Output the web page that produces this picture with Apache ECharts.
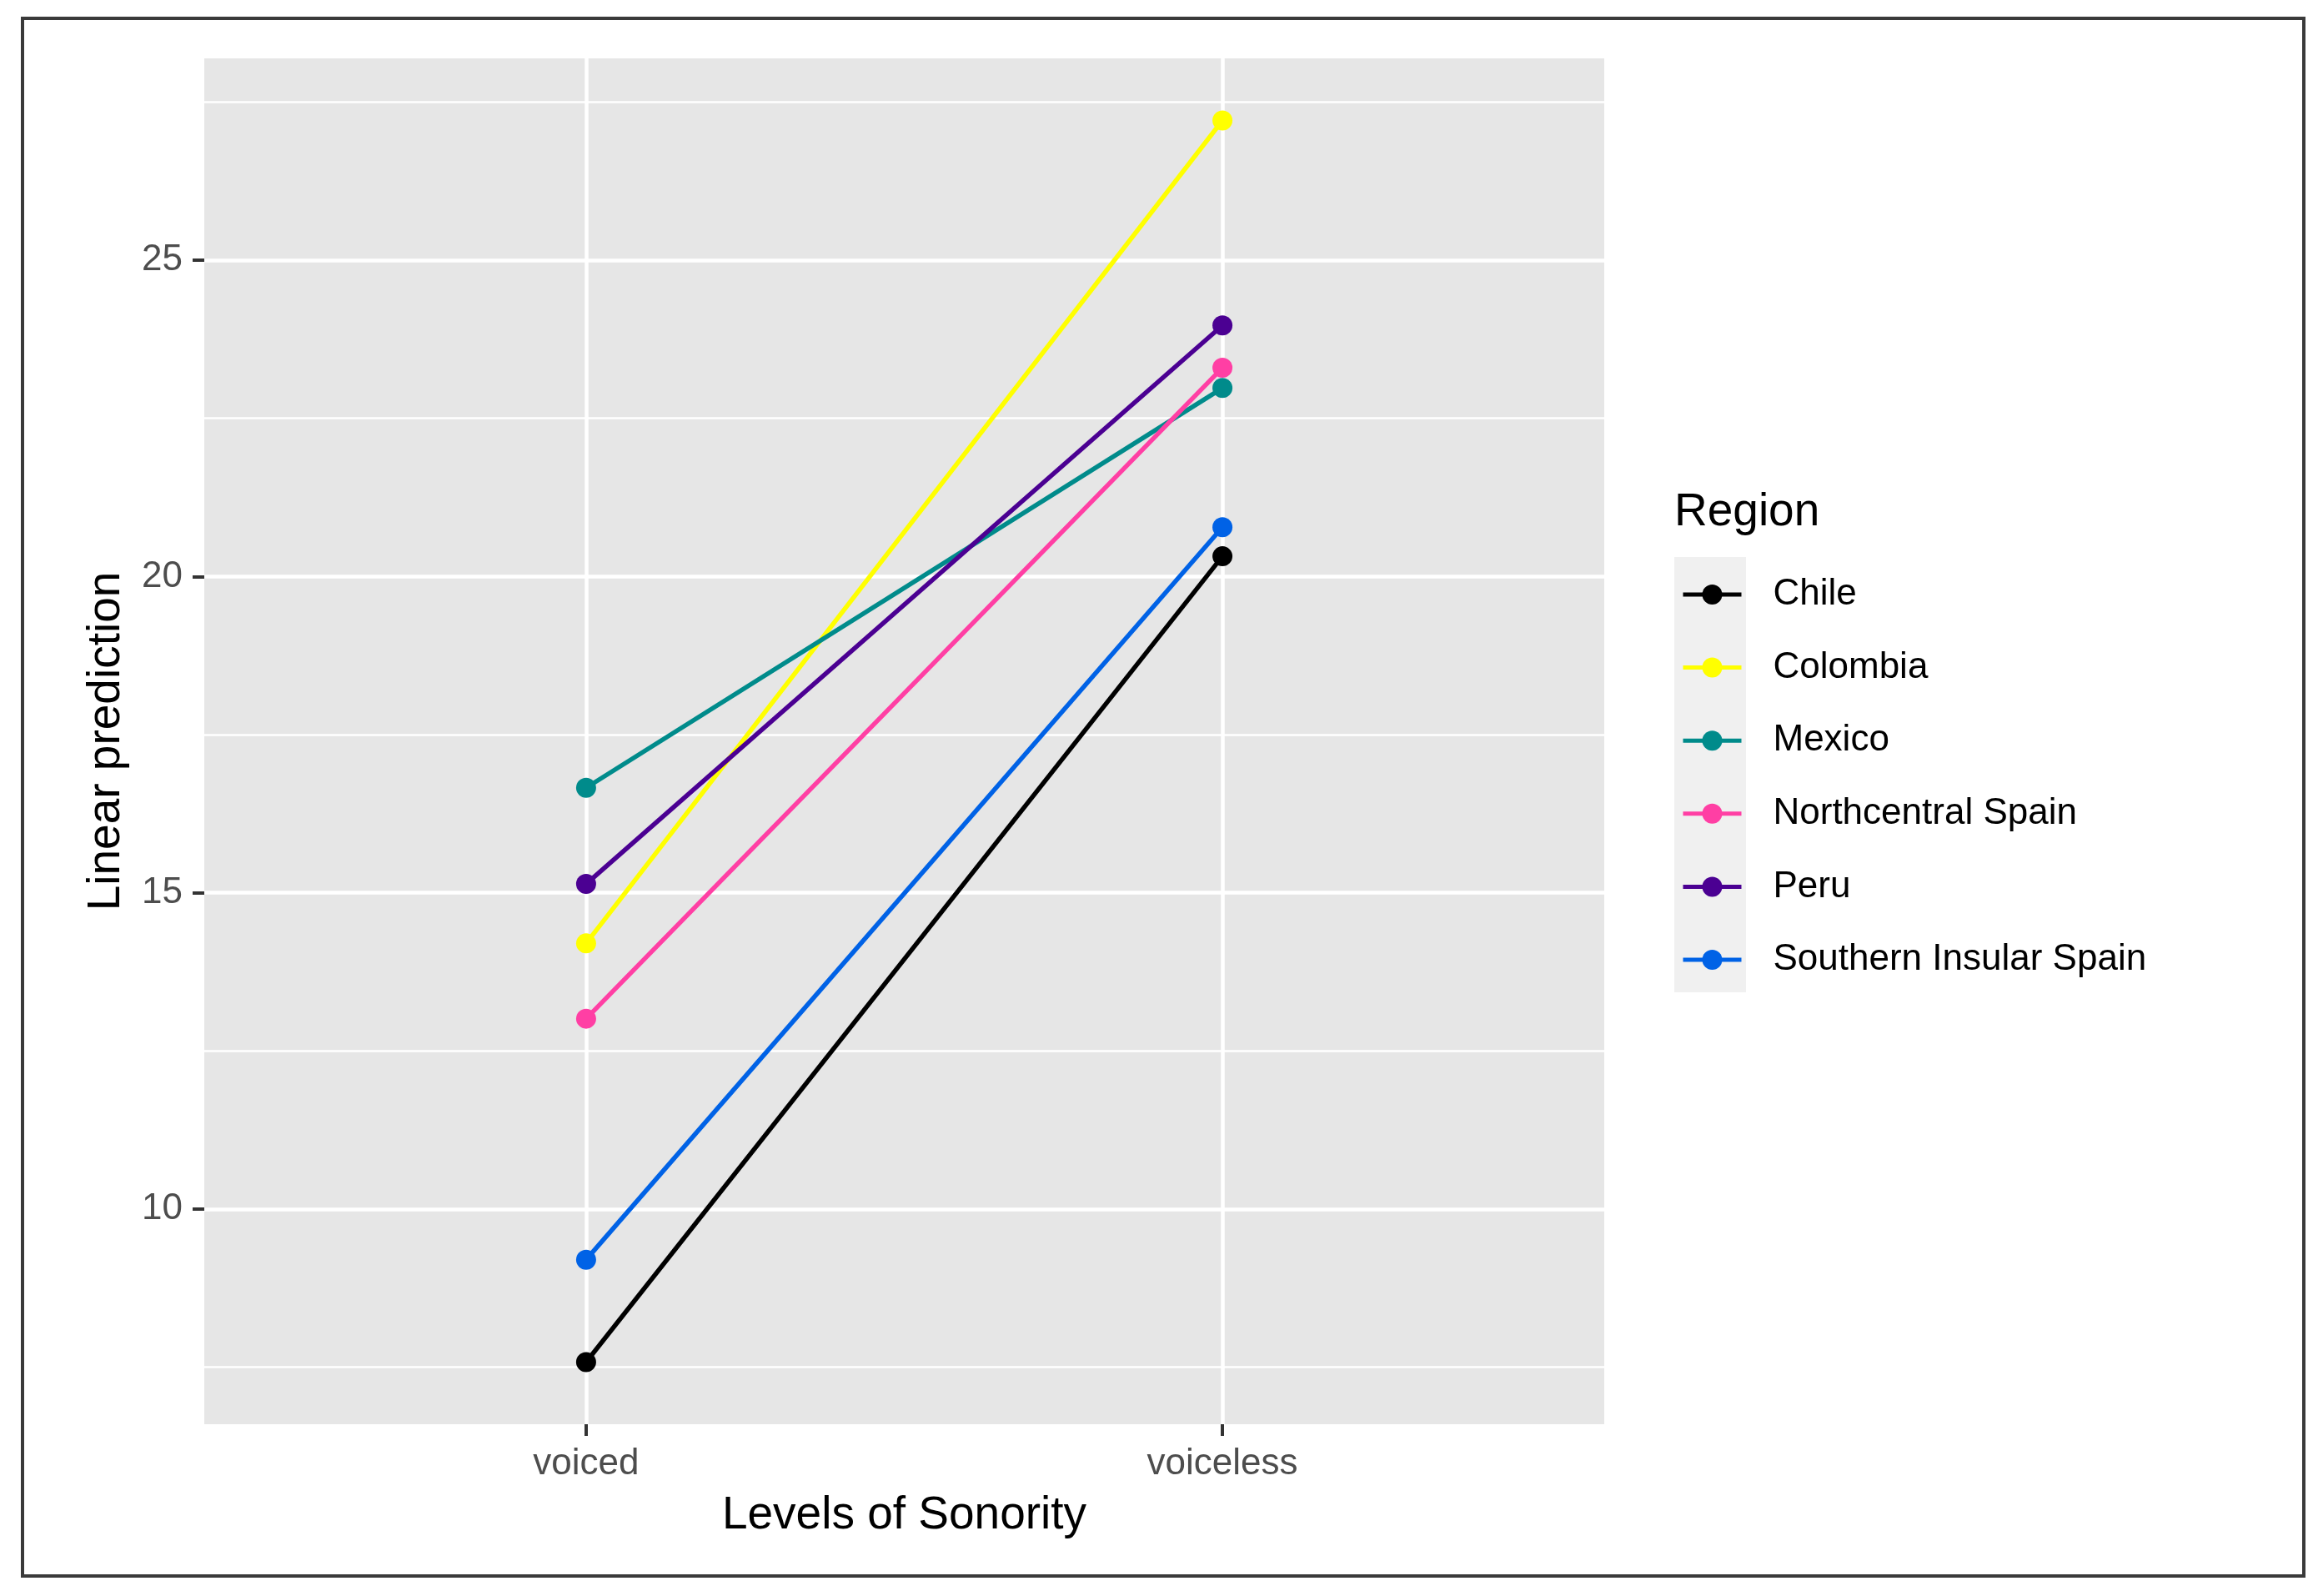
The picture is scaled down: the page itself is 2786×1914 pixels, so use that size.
<!DOCTYPE html>
<html><head><meta charset="utf-8">
<script src="https://cdn.jsdelivr.net/npm/echarts@6/dist/echarts.min.js"></script>
<style>html,body{margin:0;padding:0;background:#fff}#c{width:2786px;height:1914px}</style>
</head><body><div id="c"></div>
<script>
const categories = ['voiced', 'voiceless'];
const regions = ['Chile', 'Colombia', 'Mexico', 'Northcentral Spain', 'Peru', 'Southern Insular Spain'];
const chile = [7.58, 20.32];
const colombia = [14.20, 27.21];
const mexico = [16.66, 22.98];
const northcentralSpain = [13.01, 23.30];
const peru = [15.14, 23.97];
const southernInsularSpain = [9.20, 20.78];
const yTicks = [10, 15, 20, 25];
const yMinorTicks = [7.5, 12.5, 17.5, 22.5, 27.5];
const colors = ['#000000', '#FFFF00', '#008B8B', '#FF3FA4', '#4B0092', '#0062E6'];

const seriesValues = [chile, colombia, mexico, northcentralSpain, peru, southernInsularSpain];
const allVals = seriesValues.flat();
const dMin = Math.min(...allVals), dMax = Math.max(...allVals);
const span = dMax - dMin;
const yMin = dMin - span * 0.05, yMax = dMax + span * 0.05;
const xMin = 1 - 0.6, xMax = categories.length + 0.6;
const FONT = '"Liberation Sans", Arial, Helvetica, sans-serif';

const chart = echarts.init(document.getElementById('c'), null, {renderer: 'canvas'});
const option = {
  backgroundColor: '#ffffff',
  animation: false,
  textStyle: {fontFamily: FONT},
  grid: {left: 245, right: 862, top: 70, bottom: 206, show: true, backgroundColor: '#E6E6E6', borderWidth: 0, containLabel: false},
  xAxis: {
    type: 'value', min: xMin, max: xMax,
    name: 'Levels of Sonority', nameLocation: 'middle', nameGap: 82,
    nameTextStyle: {fontSize: 55, color: '#000000', fontFamily: FONT},
    axisLine: {show: false},
    axisTick: {show: true, length: 14, lineStyle: {color: '#333333', width: 4}, customValues: [1, 2]},
    axisLabel: {show: true, margin: 26, fontSize: 44, color: '#4D4D4D', fontFamily: FONT, customValues: [1, 2],
      formatter: v => categories[Math.round(v) - 1] || ''},
    splitLine: {show: true, lineStyle: {color: '#ffffff', width: 4.5}}
  },
  yAxis: [{
    type: 'value', min: yMin, max: yMax,
    name: 'Linear prediction', nameLocation: 'middle', nameGap: 90,
    nameTextStyle: {fontSize: 55, color: '#000000', fontFamily: FONT},
    axisLine: {show: false},
    axisTick: {show: true, length: 14, lineStyle: {color: '#333333', width: 4}, customValues: yTicks},
    axisLabel: {show: true, margin: 26, fontSize: 44, color: '#4D4D4D', fontFamily: FONT, customValues: yTicks},
    splitLine: {show: true, lineStyle: {color: '#ffffff', width: 4.5}}
  }, {
    type: 'value', min: yMin, max: yMax, position: 'left',
    axisLine: {show: false},
    axisTick: {show: false, customValues: yMinorTicks},
    axisLabel: {show: false, customValues: yMinorTicks},
    splitLine: {show: true, lineStyle: {color: '#ffffff', width: 2.5}}
  }],
  legend: {
    orient: 'vertical', left: 2016, top: 691, padding: 0,
    itemWidth: 70, itemHeight: 30, itemGap: 43.6,
    data: regions,
    lineStyle: {width: 5},
    itemStyle: {borderWidth: 0},
    textStyle: {fontSize: 44, color: '#000000', fontFamily: FONT, lineHeight: 30, padding: [0, 0, 0, 33]}
  },
  graphic: [
    {type: 'rect', z: -1, shape: {x: 2008, y: 668, width: 86, height: 522}, style: {fill: '#F0F0F0'}},
    {type: 'text', x: 2008, y: 615, style: {text: 'Region', fontSize: 55, fill: '#000000', fontFamily: FONT, textVerticalAlign: 'middle', verticalAlign: 'middle'}},
    {type: 'rect', shape: {x: 27, y: 22, width: 2736, height: 1868}, style: {fill: 'none', stroke: '#3a3a3a', lineWidth: 4}}
  ],
  series: regions.map((r, i) => ({
    name: r, type: 'line',
    data: categories.map((c, j) => [j + 1, seriesValues[i][j]]),
    symbol: 'circle', symbolSize: 24, showSymbol: true,
    lineStyle: {color: colors[i], width: 5.5},
    itemStyle: {color: colors[i], borderWidth: 0},
    emphasis: {disabled: true}
  }))
};
chart.setOption(option);
</script></body></html>
